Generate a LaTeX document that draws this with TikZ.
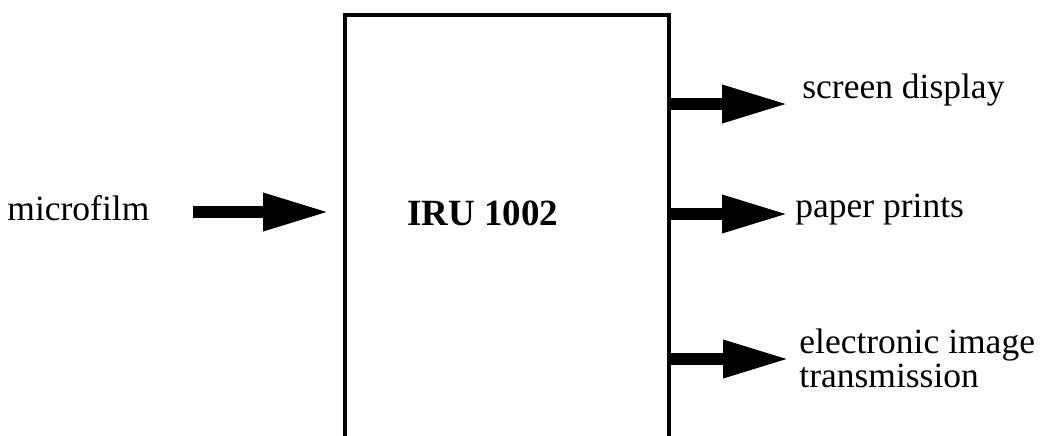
\documentclass[tikz,border=0pt]{standalone}
\usepackage{fontspec}
\setmainfont{Liberation Serif}
\usetikzlibrary{arrows.meta, positioning}

\begin{document}
\begin{tikzpicture}[
    x=0.5pt, y=-0.5pt,
    font=\fontsize{17.75pt}{17pt}\selectfont,
    flow/.style={line width=6.25pt, -{Triangle[length=33.5pt, width=17.5pt]}},
    lbl/.style={inner sep=0pt, anchor=base west, align=left},
    unit/.style={draw, line width=1.8pt, inner sep=0pt, outer sep=0pt,
                 minimum width=162pt, minimum height=225pt, anchor=north west},
  ]
    \useasboundingbox (0,0) rectangle (1046,435);
    \clip (0,0) rectangle (1046,435);

    % Unit (runs past the lower edge)
    \node[unit] (iru) at (345,15) {};
    \node[lbl, font=\fontsize{18.5pt}{17pt}\selectfont\bfseries] (iruname) at (407,225) {IRU 1002};

    % Input
    \node[lbl] (micro) at (7,220) {microfilm};
    \coordinate (microtail) at (193,212);
    \draw[flow, shorten >=7.5pt] (microtail) -- (iru.west |- microtail);

    % Outputs
    \coordinate (scrtip) at (789,104);
    \coordinate (paptip) at (789,214);
    \coordinate (elttip) at (790,359);
    \draw[flow] (iru.east |- scrtip) -- (scrtip);
    \draw[flow] (iru.east |- paptip) -- (paptip);
    \draw[flow] (iru.east |- elttip) -- (elttip);

    \node[lbl] (screen) at (802,98) {screen display};
    \node[lbl] (paper) at (795,217) {paper prints};
    \node[lbl] (elec) at (799,387) {electronic image\\transmission};
  \end{tikzpicture}
\end{document}
